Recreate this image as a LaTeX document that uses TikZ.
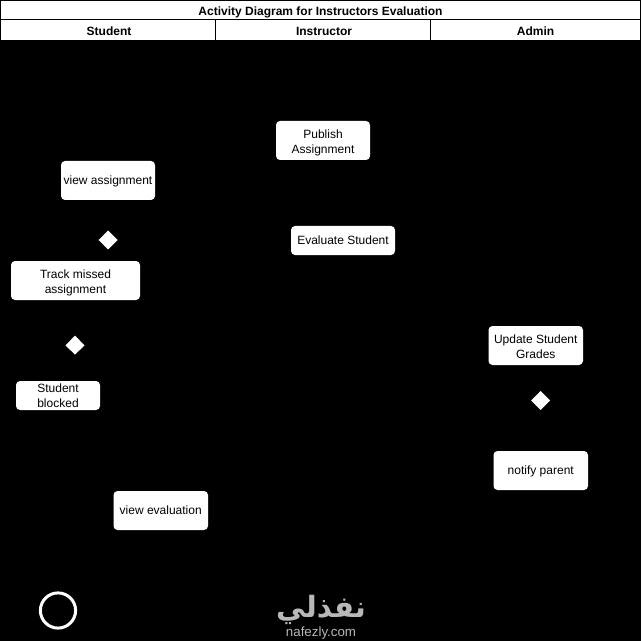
\documentclass[tikz,border=0pt]{standalone}
\usepackage{fontspec}
\setmainfont{Liberation Sans}
\newfontfamily\arabicfont[Script=Arabic]{DejaVu Sans}
\TeXXeTstate=1
\tikzset{
  x=0.75pt,y=-0.75pt,
  action/.style={fill=white,draw=none,rounded corners=3pt,inner sep=0pt,align=center,text=black,font=\fontsize{9}{11.25}\selectfont},
  header/.style={draw=black,line width=0.75pt,fill=white,inner sep=0pt,text=black,font=\bfseries\fontsize{9}{11}\selectfont},
  decision/.style={fill=white,draw=none},
  mark text/.style={text=white!72!black,inner sep=0pt}
}
\newcommand{\actbox}[7]{% name, x1, y1, x2, y2, text offset, text
  \path[action] (#2,#3) rectangle (#4,#5);
  \node[action,fill=none] (#1) at ({(#2+#4)/2},{(#3+#5)/2+#6}) {#7};}
\begin{document}
\begin{tikzpicture}
\useasboundingbox (0,0) rectangle (641,641);
\fill[black] (0,0) rectangle (641,641);
% header
\draw[header] (0.5,1) rectangle (640.5,20);
\node[header,draw=none,fill=none] (title) at (320.5,12) {Activity Diagram for Instructors Evaluation};
\draw[header] (0.5,20) rectangle (215.5,40.5);
\draw[header] (215.5,20) rectangle (430.5,40.5);
\draw[header] (430.5,20) rectangle (640.5,40.5);
\node[header,draw=none,fill=none] (student) at (109,31.5) {Student};
\node[header,draw=none,fill=none] (instructor) at (324,31.5) {Instructor};
\node[header,draw=none,fill=none] (admin) at (535.5,31.5) {Admin};
% actions
\actbox{publish}{276}{121}{370}{160}{2.5}{Publish\\Assignment}
\actbox{viewa}{61}{161}{155}{200}{1}{view assignment}
\actbox{evaluate}{291}{226}{395}{255}{0}{Evaluate Student}
\actbox{track}{11}{261}{140}{300}{2.5}{Track missed\\assignment}
\actbox{blocked}{16}{381}{100}{410}{0.5}{Student\\blocked}
\actbox{update}{488.5}{326}{583}{365}{1.5}{Update Student\\Grades}
\actbox{notify}{493.5}{451}{588}{490}{1}{notify parent}
\actbox{viewe}{113.5}{491}{208}{530}{-0.5}{view evaluation}
% decisions
\fill[decision] (108,230.5) -- (117.5,240) -- (108,249.5) -- (98.5,240) -- cycle;
\fill[decision] (75,335.5) -- (84.5,345.5) -- (75,354.5) -- (65.5,345.5) -- cycle;
\fill[decision] (540.5,391) -- (550,400.5) -- (540.5,410) -- (531,400.5) -- cycle;
% end node
\draw[white,line width=2.25pt] (58,610.5) circle [radius=13.2pt];
% watermark
\node[mark text,font=\arabicfont\bfseries\fontsize{22}{22}\selectfont] (markar) at (321,610) {\beginR نفذلي\endR};
\node[mark text,font=\fontsize{10}{10}\selectfont] (markla) at (321,633) {nafezly.com};
\end{tikzpicture}
\end{document}
